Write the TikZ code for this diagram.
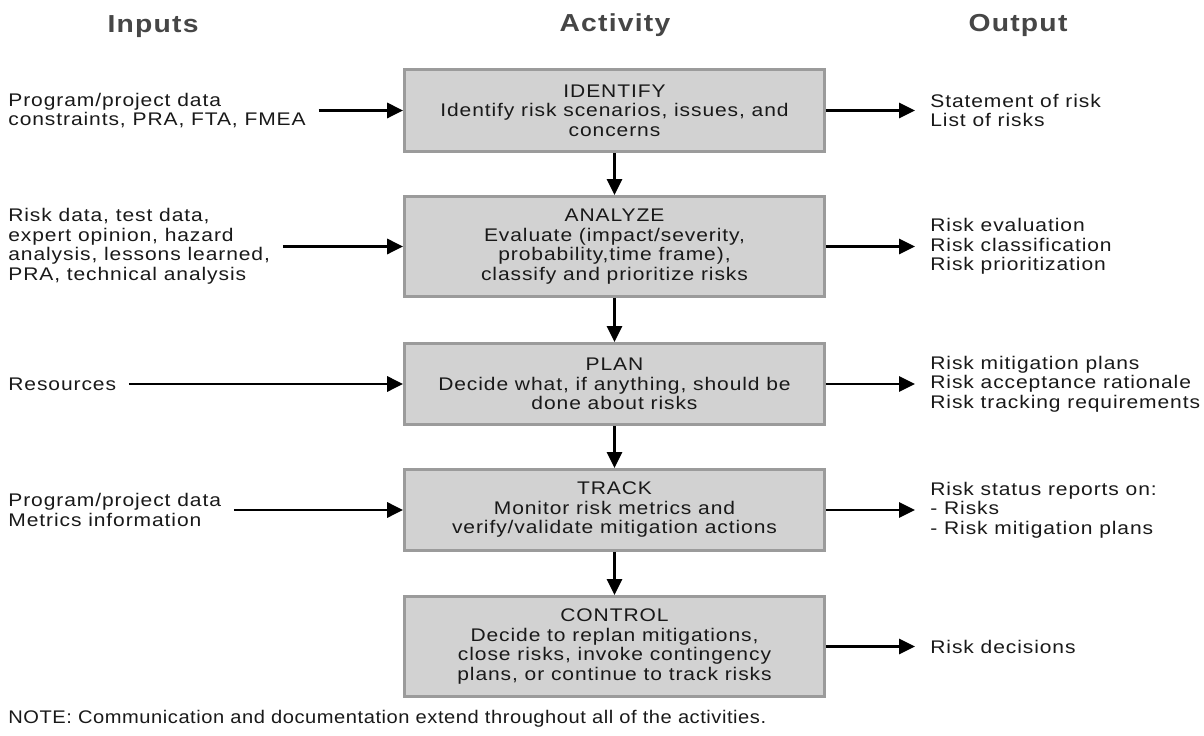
\documentclass[tikz,border=0pt]{standalone}
\usepackage{fontspec}
\setmainfont{Liberation Sans}[FakeStretch=1.15,LetterSpace=5]
\newfontfamily\notefont{Liberation Sans}[FakeStretch=1.1,LetterSpace=3]
\usetikzlibrary{arrows.meta}
\definecolor{boxgray}{RGB}{210,210,210}
\definecolor{edgegray}{RGB}{155,155,155}
\definecolor{headgray}{RGB}{70,70,70}
\definecolor{textdark}{RGB}{25,25,25}

\begin{document}
\begin{tikzpicture}[x=0.02cm, y=-0.02cm,
    txt/.style={font=\fontsize{10.4}{11.1}\selectfont, text=textdark, align=left, inner sep=0pt},
    head/.style={font=\fontsize{14}{16}\selectfont\bfseries, text=headgray},
    activity/.style={draw=edgegray, line width=1.6pt, fill=boxgray, minimum width=8.4cm,
        align=center, inner sep=0pt, font=\fontsize{10.4}{11.1}\selectfont, text=textdark},
    intext/.style={txt, anchor=west, inner xsep=0.25cm},
    outtext/.style={txt, anchor=west, inner xsep=0.3cm},
    link/.style={line width=1.7pt, -{Triangle[length=0.32cm,width=0.3cm]}},
]
    % Page
    \useasboundingbox (0,0) rectangle (1204,736);
    \fill[white] (0,0) rectangle (1204,736);

    % Column headings
    \node[head] (hin)  at (153,27)  {Inputs};
    \node[head] (hact) at (615,25)  {Activity};
    \node[head] (hout) at (1018,25) {Output};

    % Activity boxes
    \node[activity, minimum height=1.64cm] (identify) at (614.5,110.5)
        {IDENTIFY\\Identify risk scenarios, issues, and\\concerns};
    \node[activity, minimum height=2.0cm] (analyze) at (614.5,246.5)
        {ANALYZE\\Evaluate (impact/severity,\\probability,time frame),\\classify and prioritize risks};
    \node[activity, minimum height=1.62cm] (plan) at (614.5,384)
        {PLAN\\Decide what, if anything, should be\\done about risks};
    \node[activity, minimum height=1.62cm] (track) at (614.5,510)
        {TRACK\\Monitor risk metrics and\\verify/validate mitigation actions};
    \node[activity, minimum height=2.0cm] (control) at (614.5,646.5)
        {CONTROL\\Decide to replan mitigations,\\close risks, invoke contingency\\plans, or continue to track risks};

    % Inputs
    \node[intext] (in1) at (-4.5,110.5) {Program/project data\\constraints, PRA, FTA, FMEA};
    \node[intext] (in2) at (-4.5,246.5) {Risk data, test data,\\expert opinion, hazard\\analysis, lessons learned,\\PRA, technical analysis};
    \node[intext] (in3) at (-4.5,384)   {Resources};
    \node[intext] (in4) at (-4.5,510)   {Program/project data\\Metrics information};

    % Outputs
    \node[outtext] (out1) at (915,110.5) {Statement of risk\\List of risks};
    \node[outtext] (out2) at (915,246.5) {Risk evaluation\\Risk classification\\Risk prioritization};
    \node[outtext] (out3) at (915,384)   {Risk mitigation plans\\Risk acceptance rationale\\Risk tracking requirements};
    \node[outtext] (out4) at (915,510)   {Risk status reports on:\\- Risks\\- Risk mitigation plans};
    \node[outtext] (out5) at (915,646.5) {Risk decisions};

    % Arrows
    \draw[link] (in1) -- (identify);
    \draw[link] (in2) -- (analyze);
    \draw[link] (in3) -- (plan);
    \draw[link] (in4) -- (track);
    \draw[link] (identify) -- (analyze);
    \draw[link] (analyze) -- (plan);
    \draw[link] (plan) -- (track);
    \draw[link] (track) -- (control);
    \draw[link] (identify) -- (out1);
    \draw[link] (analyze) -- (out2);
    \draw[link] (plan) -- (out3);
    \draw[link] (track) -- (out4);
    \draw[link] (control) -- (out5);

    % Note
    \node[txt, font=\fontsize{10.4}{11.1}\notefont, anchor=west] (note) at (8,719)
        {NOTE: Communication and documentation extend throughout all of the activities.};
\end{tikzpicture}
\end{document}
